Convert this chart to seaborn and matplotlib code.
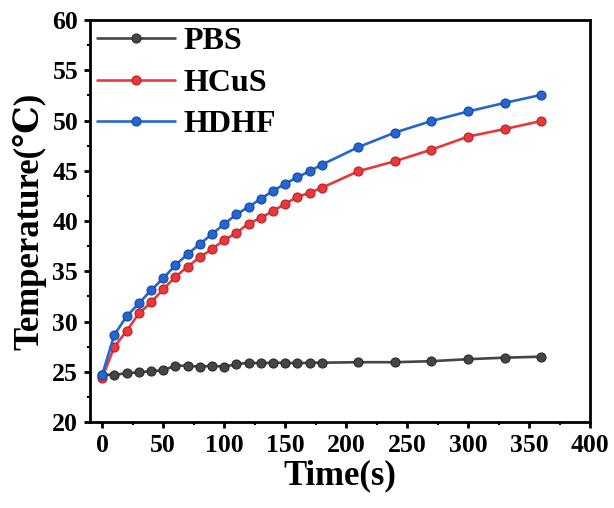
# Temperature rise curves: PBS vs HCuS vs HDHF

import pandas as pd
import matplotlib.pyplot as plt
from matplotlib.ticker import MultipleLocator
import seaborn as sns

# Data
time_s = [0, 10, 20, 30, 40, 50, 60, 70, 80, 90, 100, 110, 120, 130, 140, 150,
          160, 170, 180, 210, 240, 270, 300, 330, 360]
pbs = [24.7, 24.7, 24.85, 24.95, 25.05, 25.15, 25.6, 25.6, 25.5, 25.6, 25.5,
       25.75, 25.9, 25.85, 25.9, 25.9, 25.85, 25.9, 25.9,
       25.95, 25.95, 26.05, 26.25, 26.4, 26.5]
hcus = [24.4, 27.5, 29.05, 30.8, 31.9, 33.2, 34.45, 35.45, 36.4, 37.2, 38.1,
        38.8, 39.75, 40.3, 41.0, 41.7, 42.4, 42.8, 43.3,
        44.95, 45.95, 47.1, 48.4, 49.15, 49.95]
hdhf = [24.7, 28.7, 30.5, 31.8, 33.1, 34.3, 35.6, 36.7, 37.7, 38.7, 39.7,
        40.65, 41.4, 42.2, 43.0, 43.7, 44.35, 44.95, 45.6,
        47.35, 48.8, 49.95, 50.9, 51.75, 52.55]

groups = ['PBS', 'HCuS', 'HDHF']
colors = {'PBS': '#454545', 'HCuS': '#e8383c', 'HDHF': '#2366d1'}
edge_colors = {'PBS': '#2a2a2a', 'HCuS': '#b82226', 'HDHF': '#1747a0'}

df = pd.DataFrame({
    'Time': time_s * 3,
    'Temperature': pbs + hcus + hdhf,
    'Group': ['PBS'] * len(time_s) + ['HCuS'] * len(time_s) + ['HDHF'] * len(time_s),
})

sns.set_style('ticks')
plt.rcParams['font.family'] = ['Liberation Serif', 'DejaVu Serif']
plt.rcParams['font.weight'] = 'bold'
plt.rcParams['axes.labelweight'] = 'bold'
plt.rcParams['text.color'] = 'black'
plt.rcParams['axes.labelcolor'] = 'black'
plt.rcParams['xtick.color'] = 'black'
plt.rcParams['ytick.color'] = 'black'

fig = plt.figure(figsize=(6.14, 5.08), dpi=100)
ax = fig.add_axes([0.1466, 0.1693, 0.8143, 0.7913])

sns.lineplot(data=df, x='Time', y='Temperature', hue='Group', hue_order=groups,
             palette=colors, marker='o', markersize=6.5, linewidth=1.9,
             ax=ax, legend=False)

for line, g in zip(ax.get_lines(), groups):
    line.set_markeredgecolor(edge_colors[g])
    line.set_markeredgewidth(0.8)
    line.set_label(g)

ax.set_xlim(-10, 400)
ax.set_ylim(20, 60)
ax.xaxis.set_major_locator(MultipleLocator(50))
ax.xaxis.set_minor_locator(MultipleLocator(25))
ax.yaxis.set_major_locator(MultipleLocator(5))
ax.yaxis.set_minor_locator(MultipleLocator(2.5))

for side in ['left', 'right', 'top', 'bottom']:
    ax.spines[side].set_linewidth(2.0)
    ax.spines[side].set_color('black')

ax.tick_params(which='major', direction='out', length=4.5, width=2.0,
               labelsize=18.5, pad=4, colors='black')
ax.tick_params(which='minor', direction='out', length=2.5, width=1.5)
for lbl in ax.get_xticklabels() + ax.get_yticklabels():
    lbl.set_fontweight('bold')

ax.set_xlabel('Time(s)', fontsize=25, fontweight='bold', labelpad=2, color='black')
ax.set_ylabel('Temperature(\u2103)', fontsize=25, fontweight='bold', labelpad=4, color='black')

leg = ax.legend(loc='upper left', frameon=False, handlelength=2.45,
                handletextpad=0.25, labelspacing=0.38, borderaxespad=0.0,
                borderpad=0.22, prop={'weight': 'bold', 'size': 23})
for t in leg.get_texts():
    t.set_color('black')

fig.savefig('out.png', dpi=100)
plt.close(fig)
print("Saved out.png")
